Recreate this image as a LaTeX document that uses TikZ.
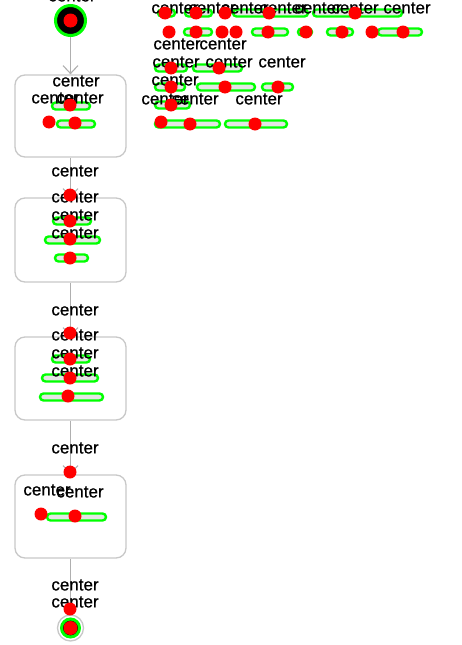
\documentclass[tikz,border=0pt]{standalone}
\usepackage{fontspec}
\setmainfont{Liberation Sans}
\newfontfamily\lblfont[FakeBold=0.8]{Liberation Sans}
\usetikzlibrary{arrows.meta}
\definecolor{hlgreen}{RGB}{0,255,0}
\definecolor{hlred}{RGB}{255,0,0}
\definecolor{boxgray}{RGB}{200,200,200}
\definecolor{linegray}{RGB}{175,175,175}
\tikzset{
  lbl/.style={font=\lblfont\fontsize{17}{17}\selectfont, text=black, inner sep=0pt, anchor=center},
  actbox/.style={draw=boxgray, line width=1.3pt, rounded corners=10pt, fill=white,
                 minimum width=111pt, minimum height=83pt, inner sep=0pt},
  conn/.style={draw=linegray, line width=1.1pt, -{Straight Barb[length=8pt,width=15pt]}},
  plain/.style={draw=linegray, line width=1.1pt},
  scrib/.style={draw=hlgreen, line width=2.4pt, rounded corners=3.5pt, fill=gray!20},
  dot/.style={fill=hlred}
}
\newcommand{\myscrib}[3]{\draw[scrib] (#1,#3-3.5) rectangle (#2,#3+3.5);}
\newcommand{\myrd}[2]{\fill[dot] (#1,#2) circle (6.5);}
\newcommand{\myct}[2]{\node[lbl] at (#1,#2) {center};}
\begin{document}
\begin{tikzpicture}[x=1pt,y=-1pt]
\useasboundingbox (0,0) rectangle (462,645);
% diagram
\node[circle, fill=black, draw=hlgreen, line width=3pt, minimum size=30pt, inner sep=0pt] (start) at (70.5,20.5) {};
\node[actbox, minimum height=82pt] (a1) at (70.5,116) {};
\node[actbox, minimum height=84pt] (a2) at (70.5,240) {};
\node[actbox] (a3) at (70.5,378.5) {};
\node[actbox] (a4) at (70.5,516.5) {};
\node[circle, draw=boxgray, line width=1.3pt, fill=white, minimum size=26pt, inner sep=0pt] (end) at (70.5,628) {};
\fill[black] (end.center) circle (9);
\draw[hlgreen, line width=3pt] (end.center) circle (9);
\draw[conn] (start) -- (a1);
\draw[conn] (a1) -- (a2);
\draw[conn] (a2) -- (a3);
\draw[conn] (a3) -- (a4);
\draw[plain] (a4) -- (end);
% green scribbles, left
\myscrib{52}{90}{106} \myscrib{57}{95}{124}
\myscrib{53}{91}{221} \myscrib{45}{100}{240} \myscrib{55}{88}{258}
\myscrib{52}{90}{359} \myscrib{42}{98}{378} \myscrib{40}{103}{397}
\myscrib{47}{106}{517}
% green scribbles, right
\myscrib{158}{175}{13} \myscrib{185}{212}{13} \myscrib{233}{308}{13} \myscrib{313}{402}{13}
\myscrib{184}{212}{32} \myscrib{252}{288}{32} \myscrib{298}{312}{32} \myscrib{327}{353}{32} \myscrib{378}{422}{32}
\myscrib{155}{187}{68} \myscrib{193}{242}{68}
\myscrib{155}{185}{87} \myscrib{197}{255}{87} \myscrib{262}{293}{87}
\myscrib{155}{190}{105}
\myscrib{155}{220}{124} \myscrib{225}{287}{124}
% labels, left
\myct{72}{-4}
\myct{76}{81} \myct{55}{98} \myct{80}{98}
\myct{75}{171}
\myct{75}{197} \myct{75}{215} \myct{75}{233}
\myct{75}{310}
\myct{75}{335} \myct{75}{353} \myct{75}{371}
\myct{75}{448}
\myct{47}{490} \myct{80}{492}
\myct{75}{585} \myct{75}{602}
% labels, right
\myct{175}{8} \myct{212}{8} \myct{245}{8} \myct{283}{8} \myct{318}{8} \myct{355}{8} \myct{407}{8}
\myct{177}{44} \myct{223}{44}
\myct{176}{62} \myct{229}{62} \myct{282}{62}
\myct{175}{80}
\myct{165}{99} \myct{195}{99} \myct{259}{99}
% red dots
\fill[dot] (start.center) circle (7);
\fill[dot] (end.center) circle (7);
\myrd{70}{105} \myrd{49}{122} \myrd{75}{123}
\myrd{70}{195} \myrd{70}{221} \myrd{70}{239} \myrd{70}{258}
\myrd{70}{333} \myrd{70}{359} \myrd{70}{378} \myrd{68}{396}
\myrd{70}{472} \myrd{41}{514} \myrd{75}{516}
\myrd{70}{609}
\myrd{165}{13} \myrd{196}{13} \myrd{225}{13} \myrd{269}{13} \myrd{355}{13}
\myrd{169}{32} \myrd{196}{32} \myrd{222}{32} \myrd{236}{32} \myrd{268}{32} \myrd{306}{32} \myrd{342}{32} \myrd{372}{32} \myrd{403}{32}
\myrd{171}{68} \myrd{219}{68}
\myrd{171}{87} \myrd{225}{87} \myrd{278}{87}
\myrd{171}{105}
\myrd{161}{122} \myrd{190}{124} \myrd{255}{124}
\end{tikzpicture}
\end{document}
